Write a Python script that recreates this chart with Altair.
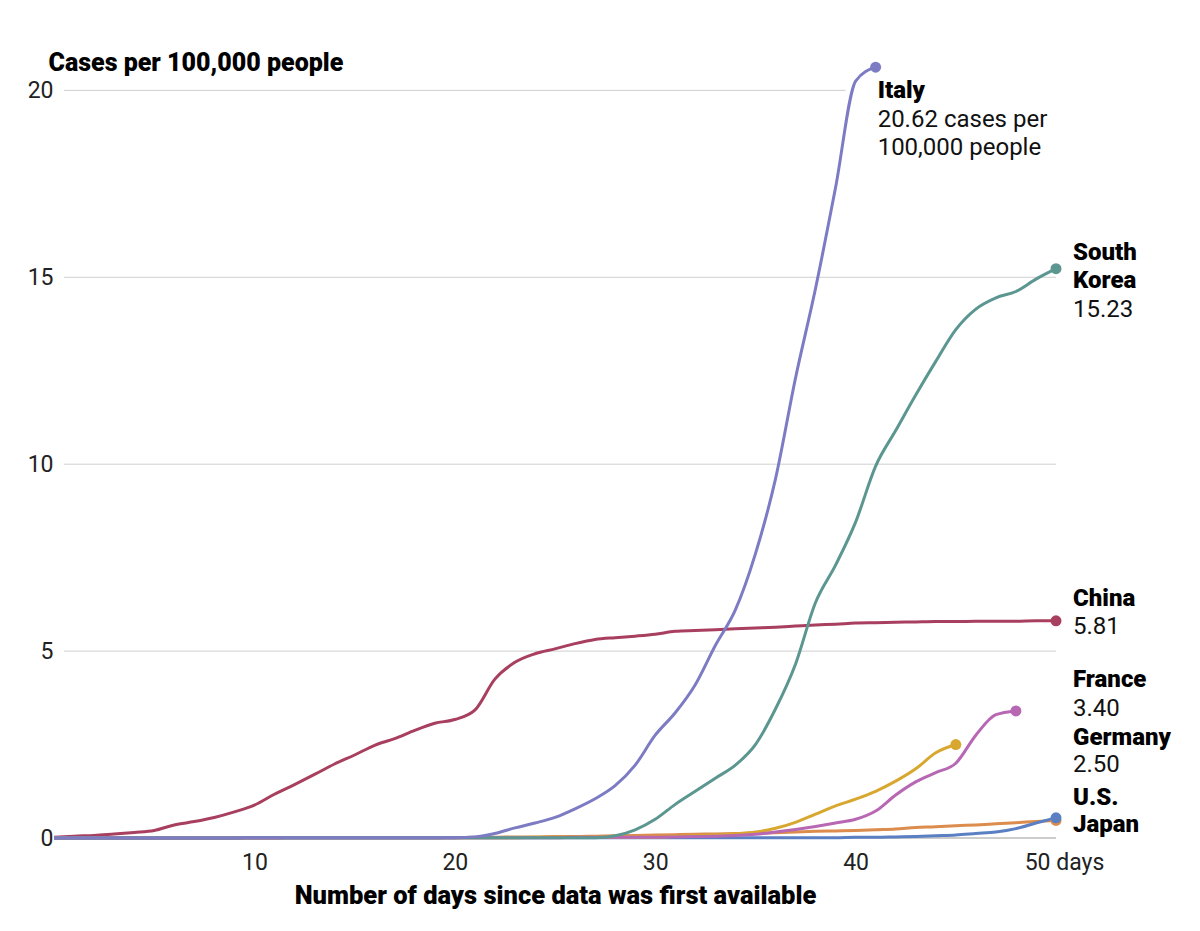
import altair as alt
import pandas as pd

# ---- data (cases per 100,000 people, by day since data first available) ----
italy = [0.0]*10 + [0.01]*11 + [0.03, 0.12, 0.27, 0.40, 0.55, 0.78, 1.05, 1.40, 1.95, 2.75,
                                3.35, 4.10, 5.15, 6.10, 7.60, 9.60, 12.30, 14.70, 17.40, 20.25, 20.62]
south_korea = [0.0]*10 + [0.01]*18 + [0.06, 0.22, 0.50, 0.90, 1.25, 1.60, 1.95, 2.50, 3.45, 4.65,
                                      6.30, 7.30, 8.45, 9.95, 10.90, 11.85, 12.75, 13.60, 14.15,
                                      14.45, 14.62, 14.95, 15.23]
china = [0.02, 0.05, 0.07, 0.11, 0.15, 0.20, 0.35, 0.44, 0.55, 0.70, 0.88, 1.17, 1.43, 1.70,
         1.98, 2.22, 2.48, 2.66, 2.88, 3.07, 3.17, 3.42, 4.25, 4.70, 4.93, 5.06, 5.20, 5.31,
         5.36, 5.40, 5.45, 5.53, 5.55, 5.57, 5.60, 5.62, 5.64, 5.67, 5.70, 5.72, 5.75, 5.76,
         5.77, 5.78, 5.79, 5.79, 5.80, 5.80, 5.80, 5.81, 5.81]
france = [0.0]*12 + [0.01]*14 + [0.02]*5 + [0.03, 0.04, 0.05, 0.07, 0.10, 0.16, 0.23, 0.31, 0.40,
                                            0.50, 0.72, 1.15, 1.50, 1.75, 2.00, 2.75, 3.30, 3.40]
germany = [0.0]*12 + [0.01]*12 + [0.02]*7 + [0.04, 0.06, 0.08, 0.11, 0.16, 0.26, 0.42, 0.64,
                                             0.86, 1.04, 1.25, 1.52, 1.85, 2.28, 2.50]
us = [0.0]*20 + [0.01]*20 + [0.02, 0.02, 0.03, 0.04, 0.06, 0.08, 0.12, 0.16, 0.25, 0.40, 0.54]
japan = [0.0]*10 + [0.01]*11 + [0.02, 0.02, 0.03, 0.03, 0.04, 0.04, 0.05, 0.06, 0.07, 0.08,
                                0.09, 0.10, 0.11, 0.12, 0.13, 0.14, 0.16, 0.18, 0.19, 0.20,
                                0.22, 0.24, 0.28, 0.30, 0.33, 0.35, 0.38, 0.41, 0.44, 0.47]

countries = ["China", "Japan", "U.S.", "Germany", "France", "South Korea", "Italy"]
series = [china, japan, us, germany, france, south_korea, italy]
colors = ["#a83f5f", "#dc8c4c", "#5a7fc3", "#d8a730", "#b867b3", "#5b9690", "#7c7bc3"]

# label text lines
label_text = ["Italy", "20.62 cases per", "100,000 people",
              "South", "Korea", "15.23",
              "China", "5.81",
              "France", "3.40",
              "Germany", "2.50",
              "U.S.", "Japan"]
label_bold = [True, False, False, True, True, False, True, False, True, False, True, False, True, True]
label_day = [41.1, 41.1, 41.1] + [50.85]*11
label_val = [19.79, 19.02, 18.26, 15.45, 14.71, 13.93, 6.20, 5.45, 4.04, 3.26, 2.49, 1.76, 0.88, 0.16]

grid_vals = [5, 10, 15, 20]
grid_end = [50, 50, 50, 39.5]
grid_start = 0.5

x_ticks = [10, 20, 30, 40, 50]
y_ticks = [0, 5, 10, 15, 20]

# ---- build tables ----
rows = []
for c, vals in zip(countries, series):
    for d, v in enumerate(vals):
        rows.append({"country": c, "day": d, "value": v})
df = pd.DataFrame(rows)
ends = df.groupby("country", as_index=False).last()
labels = pd.DataFrame({"text": label_text, "bold": label_bold, "day": label_day, "value": label_val})
grid = pd.DataFrame({"value": grid_vals, "day": [grid_start]*len(grid_vals), "day2": grid_end})
base = pd.DataFrame({"value": [0], "day": [0], "day2": [50]})

FONT = "Roboto"
xscale = alt.Scale(domain=[0, 50], nice=False, zero=False)
yscale = alt.Scale(domain=[0, 21], nice=False)
cscale = alt.Scale(domain=countries, range=colors)

x_axis = alt.Axis(values=x_ticks, grid=False, domain=False, ticks=False,
                  labelExpr="datum.value == 50 ? '50 days' : datum.label",
                  labelFlush=False,
                  labelOffset={"condition": {"test": "datum.value == 50", "value": 8}, "value": 0},
                  labelFont=FONT, labelFontSize=23, labelColor="#222",
                  labelPadding=13,
                  title="Number of days since data was first available",
                  titleFont=FONT, titleFontSize=25.5, titleFontWeight=900,
                  titleColor="#000", titlePadding=9)
y_axis = alt.Axis(values=y_ticks, grid=False, domain=False, ticks=False,
                  labelFont=FONT, labelFontSize=23, labelColor="#222",
                  labelPadding=1, labelBaseline="middle",
                  title="Cases per 100,000 people",
                  titleFont=FONT, titleFontSize=25, titleFontWeight=900,
                  titleColor="#000", titleAngle=0, titleAlign="left",
                  titleBaseline="alphabetic", titleX=-6, titleY=17)

X = alt.X("day:Q", scale=xscale, axis=x_axis, title="Number of days since data was first available")
Y = alt.Y("value:Q", scale=yscale, axis=y_axis, title="Cases per 100,000 people")

gridlines = alt.Chart(grid).mark_rule(color="#cfcfcf", strokeWidth=1).encode(
    x=X, x2="day2:Q", y=Y,
)
baseline = alt.Chart(base).mark_rule(color="#9a9a9a", strokeWidth=1.2).encode(
    x=X, x2="day2:Q", y=Y,
)

lines = alt.Chart(df).mark_line(interpolate="monotone", strokeWidth=3).encode(
    x=X, y=Y,
    color=alt.Color("country:N", scale=cscale, legend=None),
    detail="country:N",
)

points = alt.Chart(ends).mark_circle(size=120, opacity=1).encode(
    x=X, y=Y,
    color=alt.Color("country:N", scale=cscale, legend=None),
)

bold_text = alt.Chart(labels[labels["bold"]]).mark_text(
    align="left", baseline="alphabetic", font=FONT, fontSize=24, fontWeight=900, color="#000"
).encode(x=X, y=Y, text="text:N")
plain_text = alt.Chart(labels[~labels["bold"]]).mark_text(
    align="left", baseline="alphabetic", font=FONT, fontSize=24, fontWeight="normal", color="#111"
).encode(x=X, y=Y, text="text:N")

chart = alt.layer(gridlines, baseline, lines, points, bold_text, plain_text).properties(
    width=1002, height=785,
    autosize=alt.AutoSizeParams(type="none"),
    padding={"left": 46, "top": 45, "right": 130, "bottom": 80},
    background="white",
).configure_view(stroke=None)

chart.save("out.html", embed_options={"renderer": "svg", "actions": False})
